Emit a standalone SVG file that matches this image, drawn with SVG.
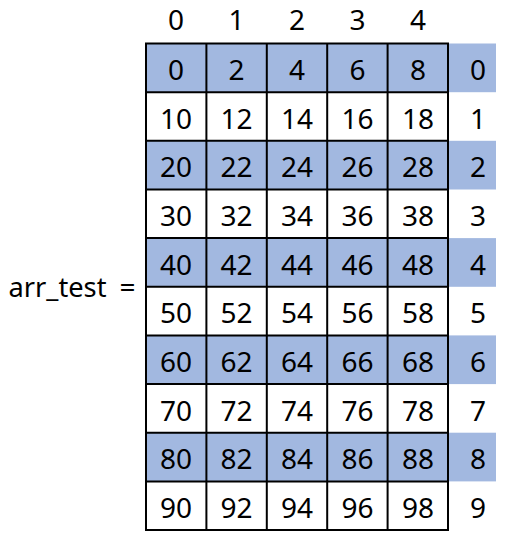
<svg xmlns="http://www.w3.org/2000/svg" width="505" height="544" viewBox="0 0 505 544">
<style>
.t{font-family:"Noto Sans","Open Sans","DejaVu Sans",sans-serif;font-size:28px;fill:#000;text-anchor:middle}
.b{fill:#A2B8E0}
.c{fill:none;stroke:#000;stroke-width:2}
</style>
<rect width="505" height="544" fill="#fff"/>
<g id="colhead">
<text class="t" x="176" y="30">0</text>
<text class="t" x="236.5" y="30">1</text>
<text class="t" x="297" y="30">2</text>
<text class="t" x="357.5" y="30">3</text>
<text class="t" x="418" y="30">4</text>
</g>
<g id="label"><text class="t" x="57.5" y="297" textLength="98" lengthAdjust="spacingAndGlyphs">arr_test</text><text class="t" x="127.5" y="297">=</text></g>
<g id="bg">
<rect class="b" x="146" y="43.5" width="350" height="48.7"/>
<rect class="b" x="146" y="140.8" width="350" height="48.7"/>
<rect class="b" x="146" y="238.1" width="350" height="48.7"/>
<rect class="b" x="146" y="335.4" width="350" height="48.7"/>
<rect class="b" x="146" y="432.7" width="350" height="48.7"/>
</g>
<g id="grid" class="c">
<rect x="146" y="43.5" width="302" height="486.5"/>
<path d="M206.4 43.5V530M266.8 43.5V530M327.2 43.5V530M387.6 43.5V530M146 92.2H448M146 140.8H448M146 189.5H448M146 238.1H448M146 286.8H448M146 335.4H448M146 384.1H448M146 432.7H448M146 481.4H448"/>
</g>
<g id="cells">
<text class="t" x="176" y="80">0</text><text class="t" x="236.5" y="80">2</text><text class="t" x="297" y="80">4</text><text class="t" x="357.5" y="80">6</text><text class="t" x="418" y="80">8</text><text class="t" x="478" y="80">0</text>
<text class="t" x="176" y="128.6">10</text><text class="t" x="236.5" y="128.6">12</text><text class="t" x="297" y="128.6">14</text><text class="t" x="357.5" y="128.6">16</text><text class="t" x="418" y="128.6">18</text><text class="t" x="478" y="128.6">1</text>
<text class="t" x="176" y="177.3">20</text><text class="t" x="236.5" y="177.3">22</text><text class="t" x="297" y="177.3">24</text><text class="t" x="357.5" y="177.3">26</text><text class="t" x="418" y="177.3">28</text><text class="t" x="478" y="177.3">2</text>
<text class="t" x="176" y="225.9">30</text><text class="t" x="236.5" y="225.9">32</text><text class="t" x="297" y="225.9">34</text><text class="t" x="357.5" y="225.9">36</text><text class="t" x="418" y="225.9">38</text><text class="t" x="478" y="225.9">3</text>
<text class="t" x="176" y="274.6">40</text><text class="t" x="236.5" y="274.6">42</text><text class="t" x="297" y="274.6">44</text><text class="t" x="357.5" y="274.6">46</text><text class="t" x="418" y="274.6">48</text><text class="t" x="478" y="274.6">4</text>
<text class="t" x="176" y="323.2">50</text><text class="t" x="236.5" y="323.2">52</text><text class="t" x="297" y="323.2">54</text><text class="t" x="357.5" y="323.2">56</text><text class="t" x="418" y="323.2">58</text><text class="t" x="478" y="323.2">5</text>
<text class="t" x="176" y="371.9">60</text><text class="t" x="236.5" y="371.9">62</text><text class="t" x="297" y="371.9">64</text><text class="t" x="357.5" y="371.9">66</text><text class="t" x="418" y="371.9">68</text><text class="t" x="478" y="371.9">6</text>
<text class="t" x="176" y="420.5">70</text><text class="t" x="236.5" y="420.5">72</text><text class="t" x="297" y="420.5">74</text><text class="t" x="357.5" y="420.5">76</text><text class="t" x="418" y="420.5">78</text><text class="t" x="478" y="420.5">7</text>
<text class="t" x="176" y="469.2">80</text><text class="t" x="236.5" y="469.2">82</text><text class="t" x="297" y="469.2">84</text><text class="t" x="357.5" y="469.2">86</text><text class="t" x="418" y="469.2">88</text><text class="t" x="478" y="469.2">8</text>
<text class="t" x="176" y="517.8">90</text><text class="t" x="236.5" y="517.8">92</text><text class="t" x="297" y="517.8">94</text><text class="t" x="357.5" y="517.8">96</text><text class="t" x="418" y="517.8">98</text><text class="t" x="478" y="517.8">9</text>
</g>
</svg>
